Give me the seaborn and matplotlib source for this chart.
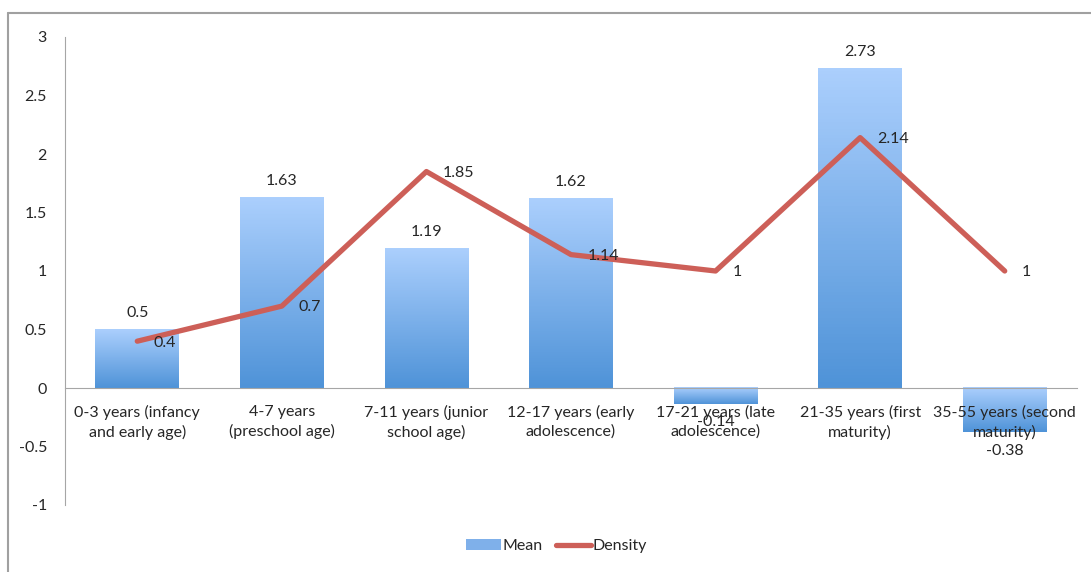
import numpy as np
import matplotlib
matplotlib.use("Agg")
import matplotlib.pyplot as plt
import seaborn as sns
from matplotlib.colors import LinearSegmentedColormap
from matplotlib.patches import Patch
from matplotlib.lines import Line2D
import matplotlib.ticker as ticker

categories = ["0-3 years (infancy\nand early age)", "4-7 years\n(preschool age)",
              "7-11 years (junior\nschool age)", "12-17 years (early\nadolescence)",
              "17-21 years (late\nadolescence)", "21-35 years (first\nmaturity)",
              "35-55 years (second\nmaturity)"]
mean = [0.5, 1.63, 1.19, 1.62, -0.14, 2.73, -0.38]
density = [0.4, 0.7, 1.85, 1.14, 1, 2.14, 1]

FS = 11.5
sns.set_style("white")
plt.rcParams["font.family"] = ["Lato", "DejaVu Sans"]
plt.rcParams["font.size"] = FS

fig = plt.figure(figsize=(10.91, 5.72), dpi=100)
ax = fig.add_axes([65/1091, 1-505/572, (1077-65)/1091, (505-37)/572])

sns.barplot(x=categories, y=mean, width=0.58, color="#7fb0ea", ax=ax, zorder=2)

# vertical gradient on each bar (light top, darker bottom)
grad_cmap = LinearSegmentedColormap.from_list("g", ["#4f93d8", "#abcffd"])
grad = np.linspace(1, 0, 100).reshape(-1, 1)
for p in ax.patches:
    x0, y0 = p.get_x(), p.get_y()
    w, h = p.get_width(), p.get_height()
    ylo, yhi = min(y0, y0 + h), max(y0, y0 + h)
    p.set_facecolor("none")
    p.set_edgecolor("none")
    ax.imshow(grad, cmap=grad_cmap, extent=(x0, x0 + w, ylo, yhi), origin="upper",
              aspect="auto", zorder=2)

sns.lineplot(x=np.arange(len(categories)), y=density, color="#cd5f58", linewidth=3.8,
             sort=False, ax=ax, zorder=3)

for i, v in enumerate(mean):
    if v >= 0:
        ax.annotate(f"{v:g}", (i, v), xytext=(0, 7), textcoords="offset points",
                    ha="center", va="bottom", fontsize=FS)
    else:
        ax.annotate(f"{v:g}", (i, v), xytext=(0, -8), textcoords="offset points",
                    ha="center", va="top", fontsize=FS, zorder=4)

for i, v in enumerate(density):
    ax.annotate(f"{v:g}", (i, v), xytext=(12, -1), textcoords="offset points",
                ha="left", va="center", fontsize=FS, zorder=4)

ax.set_xlim(-0.5, len(categories) - 0.5)
ax.set_ylim(-1, 3)
ax.yaxis.set_major_locator(ticker.MultipleLocator(0.5))
ax.yaxis.set_major_formatter(ticker.FuncFormatter(lambda v, p: f"{v:g}"))

ax.set_axisbelow(False)
ax.spines["top"].set_visible(False)
ax.spines["right"].set_visible(False)
ax.spines["left"].set_color("#a6a6a6")
ax.spines["bottom"].set_color("#a6a6a6")
ax.spines["bottom"].set_position(("data", 0))
ax.spines["bottom"].set_zorder(2.5)
ax.tick_params(axis="y", length=0, pad=13, labelsize=FS)
ax.tick_params(axis="x", length=0, pad=12, labelsize=FS)
for lbl in ax.get_xticklabels():
    lbl.set_linespacing(1.45)

handles = [Patch(facecolor="#7fb0ea", edgecolor="none"),
           Line2D([0], [0], color="#cd5f58", linewidth=3.8, solid_capstyle="round")]
fig.legend(handles, ["Mean", "Density"], loc="center", bbox_to_anchor=(0.51, 1-546/572),
           ncol=2, frameon=False, handlelength=2.2, handleheight=0.7,
           handletextpad=0.1, columnspacing=0.8, fontsize=FS)

# outer chart border (left and top only visible)
fig.add_artist(Line2D([8/1091, 8/1091], [0, 1-13/572], transform=fig.transFigure,
                      color="#a0a0a0", linewidth=1.5))
fig.add_artist(Line2D([8/1091, 1], [1-13/572, 1-13/572], transform=fig.transFigure,
                      color="#a0a0a0", linewidth=1.5))

fig.savefig("out.png", dpi=100)
